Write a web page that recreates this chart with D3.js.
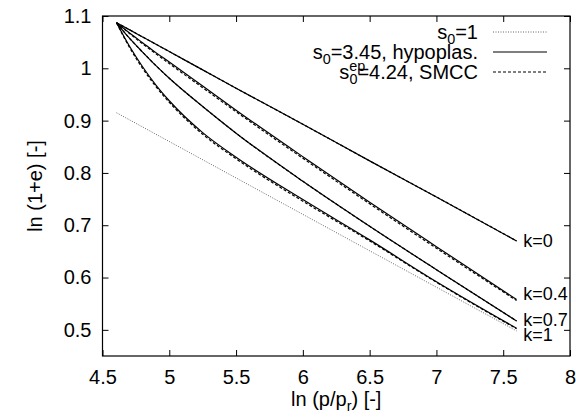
<!DOCTYPE html>
<html><head><meta charset="utf-8">
<script src="https://cdn.jsdelivr.net/npm/d3@7"></script>
<style>
html,body{margin:0;padding:0;background:#fff;}
text{font-family:"Liberation Sans",Arial,Helvetica,sans-serif;fill:#000;}
</style></head>
<body><svg id="c" width="576" height="419"></svg>
<script>
// ---- data ----
const lnP = [4.605, 4.7, 4.8, 4.9, 5.0, 5.25, 5.5, 6.0, 6.5, 7.0, 7.6];
const hypoK0  = [1.087, 1.074, 1.060, 1.046, 1.032, 0.997, 0.962, 0.893, 0.823, 0.754, 0.670];
const hypoK04 = [1.087, 1.068, 1.049, 1.030, 1.012, 0.966, 0.920, 0.831, 0.744, 0.659, 0.558];
const hypoK07 = [1.087, 1.058, 1.031, 1.005, 0.981, 0.927, 0.876, 0.784, 0.698, 0.615, 0.517];
const hypoK1  = [1.087, 1.043, 1.003, 0.968, 0.938, 0.877, 0.830, 0.749, 0.672, 0.592, 0.503];
const smccK0  = [1.087, 1.074, 1.060, 1.046, 1.032, 0.997, 0.962, 0.893, 0.823, 0.754, 0.670];
const smccK04 = [1.087, 1.067, 1.047, 1.028, 1.009, 0.963, 0.917, 0.828, 0.741, 0.656, 0.556];
const smccK07 = [1.087, 1.058, 1.031, 1.005, 0.981, 0.927, 0.876, 0.784, 0.698, 0.615, 0.517];
const smccK1  = [1.087, 1.041, 1.000, 0.965, 0.935, 0.874, 0.827, 0.746, 0.670, 0.591, 0.502];
const s01X = [4.605, 7.6];
const s01Y = [0.915, 0.498];
const kLabels = ["k=0", "k=0.4", "k=0.7", "k=1"];
const kLabelY = [0.67, 0.57, 0.52, 0.49];
const kLabelX = 7.65;
const xTicks = [4.5, 5, 5.5, 6, 6.5, 7, 7.5, 8];
const yTicks = [0.5, 0.6, 0.7, 0.8, 0.9, 1, 1.1];

// ---- layout ----
const L = 102.5, R = 570, T = 16, B = 356;
const svg = d3.select("#c");
const x = d3.scaleLinear().domain([4.5, 8]).range([L, R]);
const y = d3.scaleLinear().domain([0.45, 1.1]).range([B, T]);
const FS = 20;

// axes
const tl = 6;
svg.append("g").attr("transform", `translate(0,${B})`)
  .call(d3.axisBottom(x).tickValues(xTicks).tickSizeInner(-tl).tickSizeOuter(0).tickPadding(14).tickFormat(d3.format("")));
svg.append("g").attr("transform", `translate(0,${T})`)
  .call(d3.axisTop(x).tickValues(xTicks).tickSizeInner(-tl).tickSizeOuter(0).tickFormat(""));
svg.append("g").attr("transform", `translate(${L},0)`)
  .call(d3.axisLeft(y).tickValues(yTicks).tickSizeInner(-tl).tickSizeOuter(0).tickPadding(11).tickFormat(d3.format("")));
svg.append("g").attr("transform", `translate(${R},0)`)
  .call(d3.axisRight(y).tickValues(yTicks).tickSizeInner(-tl).tickSizeOuter(0).tickFormat(""));
svg.selectAll(".domain").remove();
svg.selectAll(".tick line").attr("stroke", "#000").attr("stroke-width", 1);
svg.selectAll(".tick text").attr("font-size", FS).attr("font-family", "Liberation Sans, Arial, sans-serif");
svg.append("rect").attr("x", L).attr("y", T).attr("width", R - L).attr("height", B - T)
  .attr("fill", "none").attr("stroke", "#000").attr("stroke-width", 1.2);

// lines
const line = d3.line().x(d => x(d[0])).y(d => y(d[1])).curve(d3.curveMonotoneX);
function pts(xs, ys) { return xs.map((v, i) => [v, ys[i]]); }
const g = svg.append("g");
g.append("path").attr("d", line(pts(s01X, s01Y))).attr("fill", "none")
  .attr("stroke", "#666").attr("stroke-width", 1).attr("stroke-dasharray", "1,1.5");
[smccK0, smccK04, smccK07, smccK1].forEach(ys => {
  g.append("path").attr("d", line(pts(lnP, ys))).attr("fill", "none")
    .attr("stroke", "#000").attr("stroke-width", 1.2).attr("stroke-dasharray", "3,2");
});
[hypoK0, hypoK04, hypoK07, hypoK1].forEach(ys => {
  g.append("path").attr("d", line(pts(lnP, ys))).attr("fill", "none")
    .attr("stroke", "#000").attr("stroke-width", 1.2);
});

// k labels
kLabels.forEach((t, i) => {
  svg.append("text").attr("x", x(kLabelX)).attr("y", y(kLabelY[i])).attr("dy", "0.35em")
    .attr("font-size", 18).text(t);
});

// legend
const legX = 478, sx1 = 493, sx2 = 547;
const rows = [32, 52, 72];
const small = FS * 0.72;
{
  const t = svg.append("text").attr("x", legX).attr("y", rows[0]).attr("dy", "0.35em").attr("text-anchor", "end").attr("font-size", FS);
  t.append("tspan").text("s");
  t.append("tspan").attr("font-size", small).attr("dy", 5).text("0");
  t.append("tspan").attr("dy", -5).text("=1");
  svg.append("line").attr("x1", sx1).attr("x2", sx2).attr("y1", rows[0]).attr("y2", rows[0])
    .attr("stroke", "#666").attr("stroke-width", 1).attr("stroke-dasharray", "1,1.5");
}
{
  const t = svg.append("text").attr("x", legX).attr("y", rows[1]).attr("dy", "0.35em").attr("text-anchor", "end").attr("font-size", FS);
  t.append("tspan").text("s");
  t.append("tspan").attr("font-size", small).attr("dy", 5).text("0");
  t.append("tspan").attr("dy", -5).text("=3.45, hypoplas.");
  svg.append("line").attr("x1", sx1).attr("x2", sx2).attr("y1", rows[1]).attr("y2", rows[1])
    .attr("stroke", "#000").attr("stroke-width", 1.2);
}
{
  const t = svg.append("text").attr("x", legX).attr("y", rows[2]).attr("dy", "0.35em").attr("text-anchor", "end").attr("font-size", FS);
  t.append("tspan").text("s");
  t.append("tspan").attr("font-size", small).attr("dy", -8).text("ep");
  t.append("tspan").attr("font-size", small).attr("dx", -small * 1.112).attr("dy", 13).text("0");
  t.append("tspan").attr("dy", -5).text("=4.24, SMCC");
  svg.append("line").attr("x1", sx1).attr("x2", sx2).attr("y1", rows[2]).attr("y2", rows[2])
    .attr("stroke", "#000").attr("stroke-width", 1.2).attr("stroke-dasharray", "3,2");
}

// axis titles
{
  const t = svg.append("text").attr("x", (L + R) / 2).attr("y", 406).attr("text-anchor", "middle").attr("font-size", FS);
  t.append("tspan").text("ln (p/p");
  t.append("tspan").attr("font-size", small).attr("dy", 5).text("r");
  t.append("tspan").attr("dy", -5).text(") [-]");
}
svg.append("text").attr("transform", `translate(42,${(T + B) / 2}) rotate(-90)`)
  .attr("text-anchor", "middle").attr("font-size", FS).text("ln (1+e) [-]");
</script>
</body></html>
